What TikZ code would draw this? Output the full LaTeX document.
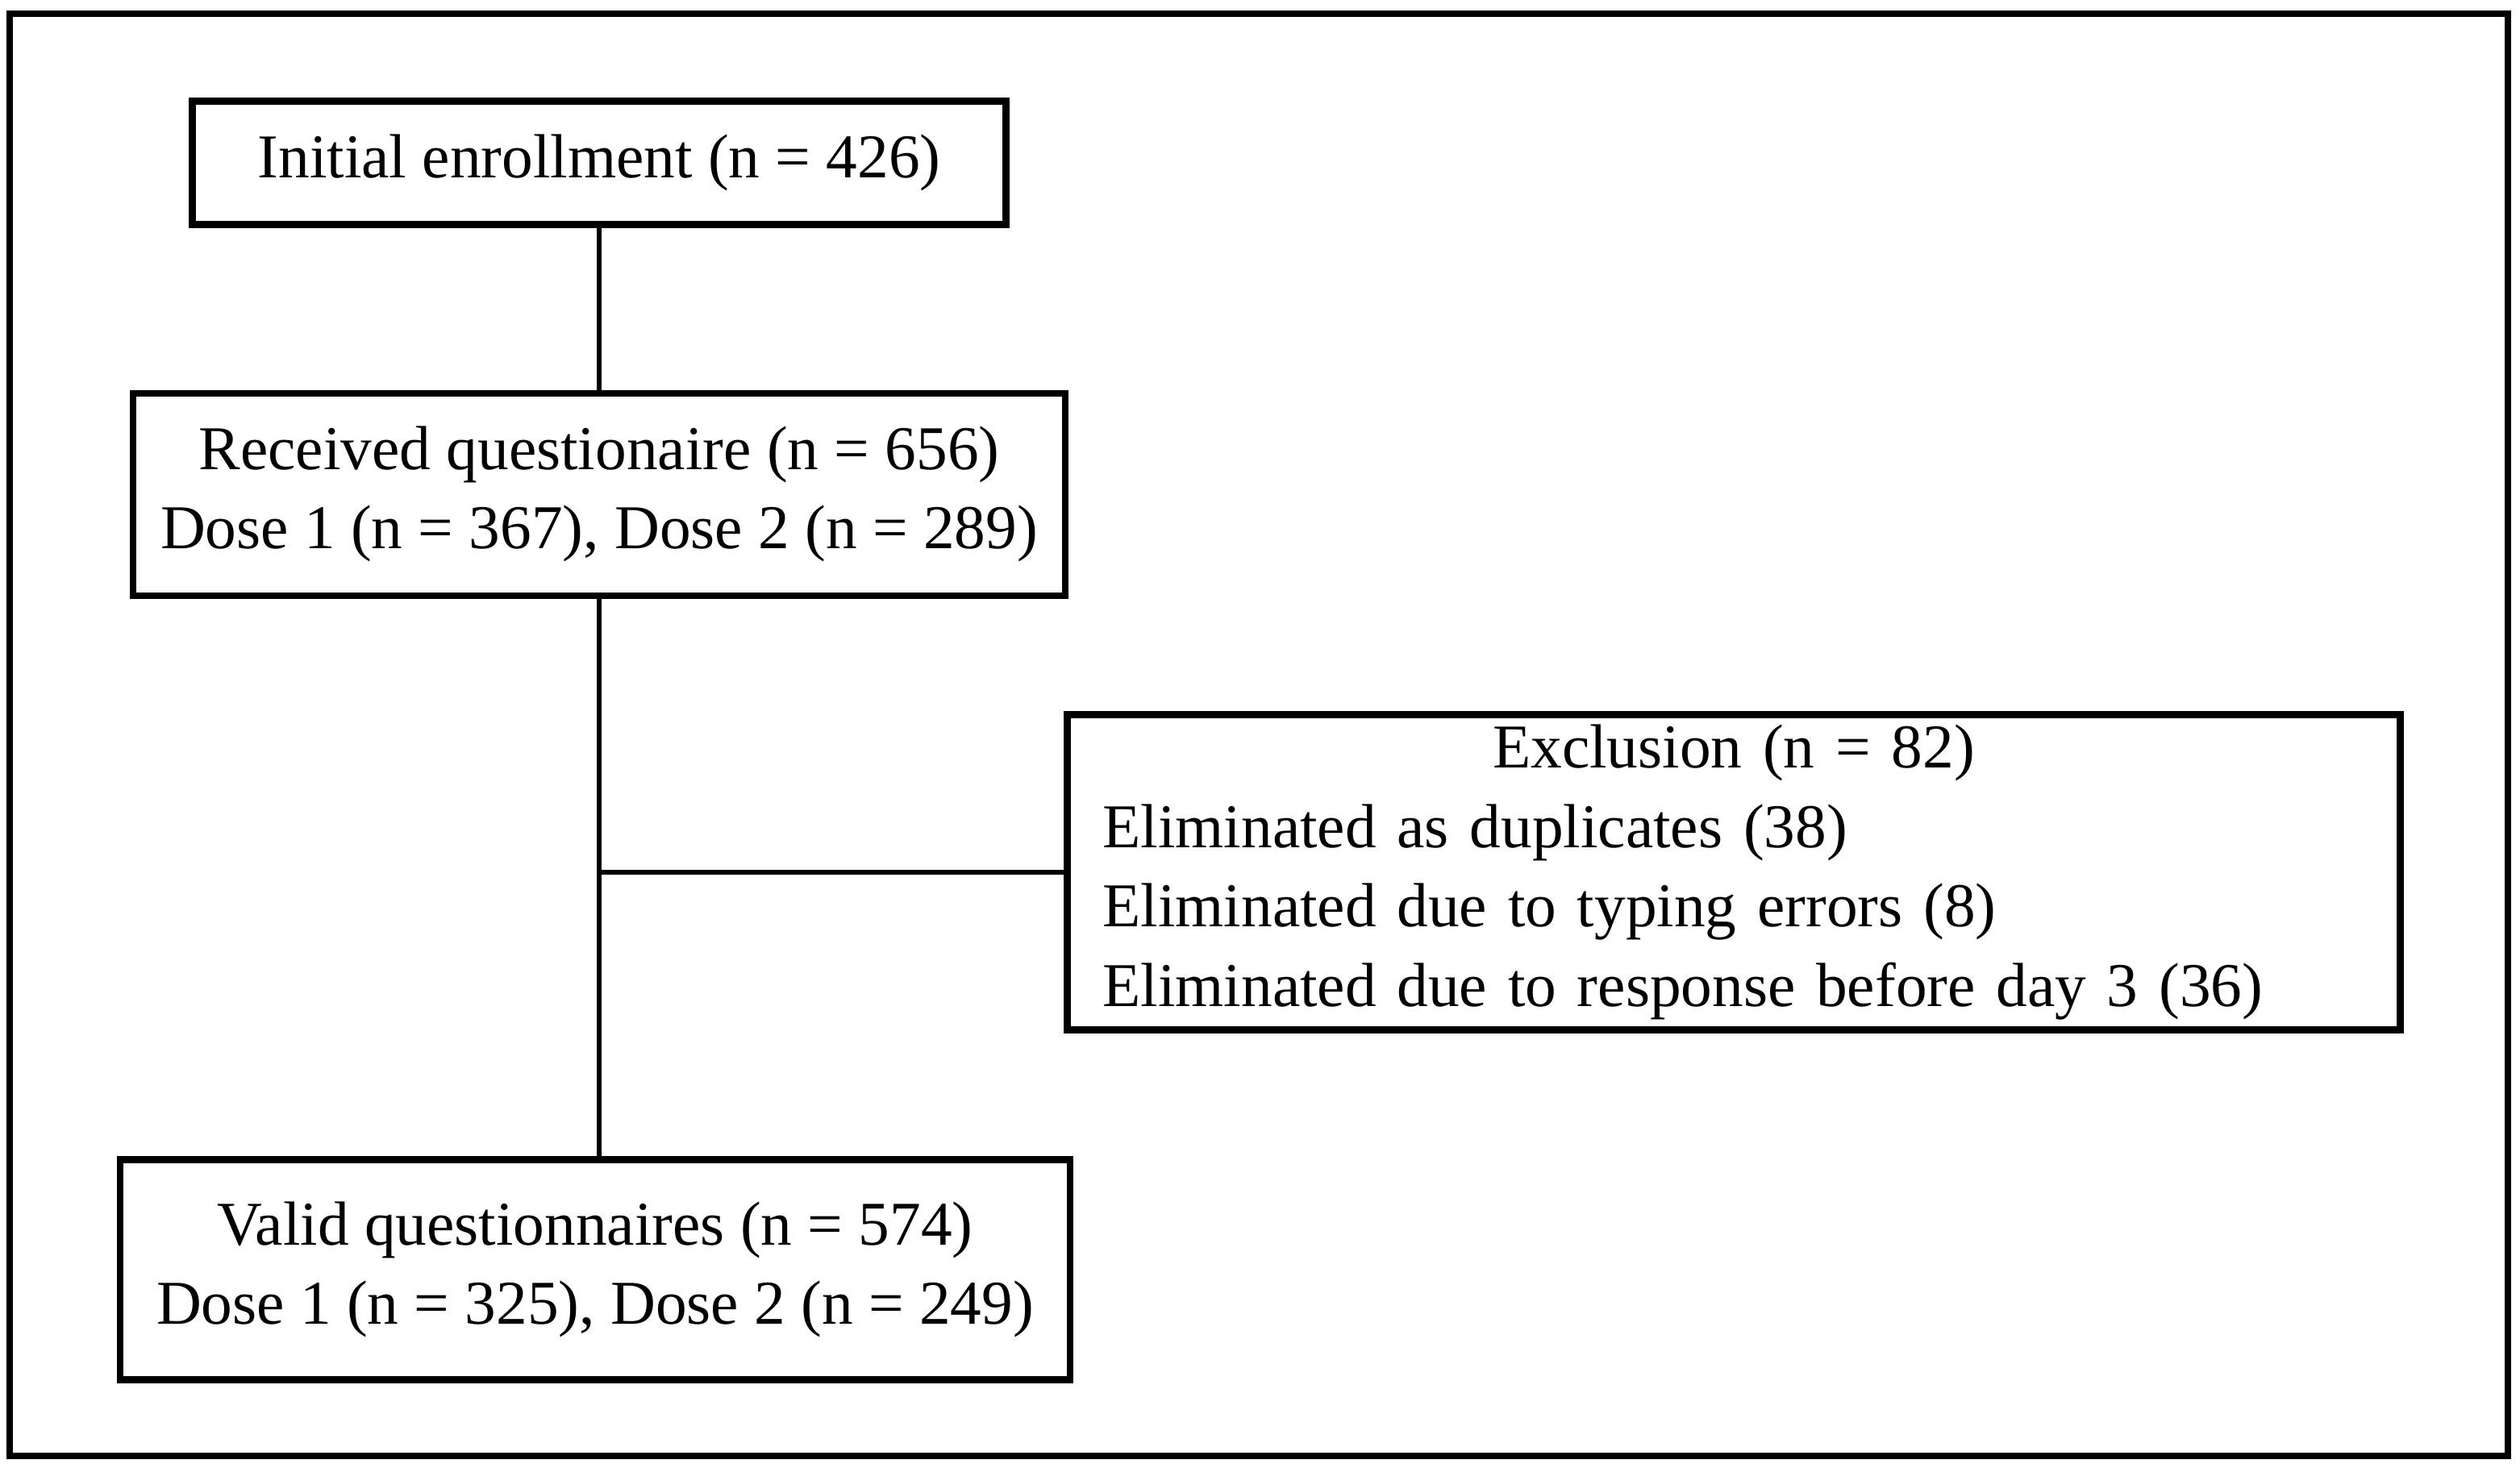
\documentclass[tikz,border=0pt]{standalone}
\usepackage{fontspec}
\setmainfont{Liberation Serif}
\usepackage{tikz}
\usetikzlibrary{positioning,calc}
\tikzset{
  box/.style={rectangle,draw,line width=2.3pt,align=center,
    font=\fontsize{22}{28}\selectfont,inner sep=0pt},
  conn/.style={line width=1.9pt},
  frame/.style={line width=2.1pt},
}
\begin{document}
\begin{tikzpicture}
\useasboundingbox (0,0) rectangle (31.25,-18.20);
\draw[frame] (0.12,-0.17) rectangle (31.10,-18.06);

\node[box,minimum width=10.09cm,minimum height=1.53cm] (init) at (7.43,-2.02)
  {Initial enrollment (n = 426)};
\node[box,minimum width=11.56cm,minimum height=2.51cm,below=2.01cm of init] (recv)
  {Received questionaire (n = 656)\\Dose 1 (n = 367), Dose 2 (n = 289)};
\node[box,minimum width=11.78cm,minimum height=2.73cm] (valid) at (7.38,-15.75)
  {Valid questionnaires (n = 574)\\Dose 1 (n = 325), Dose 2 (n = 249)};
\node[box,align=left,text width=15.65cm,inner xsep=0.44cm,
  minimum width=16.53cm,minimum height=3.91cm] (excl) at (21.50,-10.82)
  {{\centering Exclusion (n = 82)\par}
   Eliminated as duplicates (38)\\
   Eliminated due to typing errors (8)\\
   Eliminated due to response before day 3 (36)};
\coordinate (jn) at (recv.south |- excl.west);

\draw[conn] (init) -- (recv);
\draw[conn] (recv.south) -- (recv.south |- valid.north);
\draw[conn] (jn) -- (excl.west);
\end{tikzpicture}
\end{document}
